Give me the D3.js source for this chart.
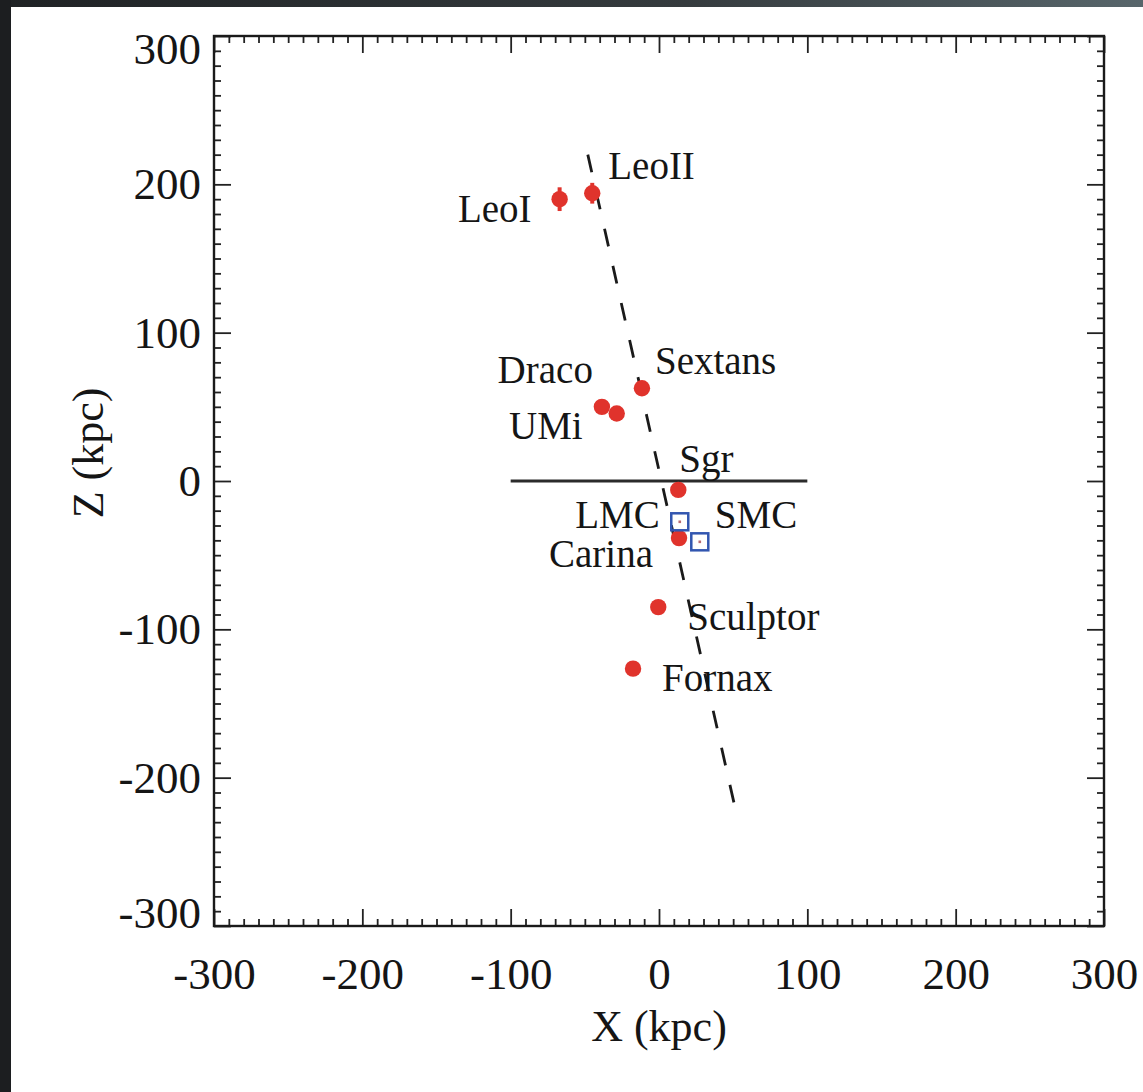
<!DOCTYPE html>
<html>
<head>
<meta charset="utf-8">
<script src="https://cdn.jsdelivr.net/npm/d3@7"></script>
<style>
  body { margin: 0; background: #fff; }
  svg { display: block; }
  text { font-family: "Liberation Serif", "Times New Roman", Times, serif; fill: #151515; }
</style>
</head>
<body>
<svg id="chart" width="1143" height="1092"></svg>
<script>
// Milky Way satellites projected on the X–Z plane (kpc)
const galaxies   = ["LeoI", "LeoII", "Draco", "UMi", "Sextans", "Sgr", "Carina", "Sculptor", "Fornax"];
const galaxyX    = [-67, -45, -38.5, -28.5, -11.5, 13, 13.5, -0.5, -17.5];
const galaxyZ    = [190, 194, 50, 45.5, 62.5, -6, -38.5, -85, -126.5];
const galaxyZErr = [8, 7, 0, 0, 0, 0, 0, 0, 0];

// Magellanic Clouds
const clouds = ["LMC", "SMC"];
const cloudX = [14, 27.5];
const cloudZ = [-27.5, -41];

// Galactic disc (solid) and the best-fit plane seen edge-on (dashed)
const discX = [-100, 100];
const discZ = [0, 0];
const fitX  = [-48, 51];
const fitZ  = [220, -219];

// Axis ticks
const majorTicks = [-300, -200, -100, 0, 100, 200, 300];
const tickLabels = ["-300", "-200", "-100", "0", "100", "200", "300"];

// Label placement around each marker (pixels)
const labelPlacement = {
  LeoI:     { anchor: "end",   dx: -28, dy: 23 },
  LeoII:    { anchor: "start", dx: 16,  dy: -14 },
  Draco:    { anchor: "end",   dx: -9,  dy: -24 },
  UMi:      { anchor: "end",   dx: -34, dy: 25 },
  Sextans:  { anchor: "start", dx: 13,  dy: -14 },
  Sgr:      { anchor: "start", dx: 1,   dy: -18 },
  Carina:   { anchor: "end",   dx: -26, dy: 29 },
  Sculptor: { anchor: "start", dx: 29,  dy: 23 },
  Fornax:   { anchor: "start", dx: 29,  dy: 22 },
  LMC:      { anchor: "end",   dx: -20, dy: 6 },
  SMC:      { anchor: "start", dx: 15,  dy: -14 }
};

const W = 1143, H = 1092;
const svg = d3.select("#chart");

// dark frame behind the white page
const defs = svg.append("defs");
const grad = defs.append("linearGradient").attr("id", "frameGrad")
  .attr("x1", "0").attr("y1", "0").attr("x2", "1").attr("y2", "0");
grad.append("stop").attr("offset", "0").attr("stop-color", "#1f2224");
grad.append("stop").attr("offset", "0.6").attr("stop-color", "#353b3e");
grad.append("stop").attr("offset", "1").attr("stop-color", "#58666b");
svg.append("rect").attr("width", W).attr("height", H).attr("fill", "url(#frameGrad)");
svg.append("rect").attr("x", 0).attr("y", 0).attr("width", 11).attr("height", H).attr("fill", "#1c1e20");
svg.append("rect").attr("x", 11).attr("y", 7).attr("width", W - 11).attr("height", H - 7).attr("fill", "#ffffff");

const plotLeft = 214, plotRight = 1104, plotTop = 36, plotBottom = 926;
const x = d3.scaleLinear().domain([-300, 300]).range([plotLeft, plotRight]);
const z = d3.scaleLinear().domain([-300, 300]).range([plotBottom, plotTop]);

const minorTicks = d3.range(-300, 301, 10).filter(v => !majorTicks.includes(v));
const fmt = v => tickLabels[majorTicks.indexOf(v)];
const tickFont = 45;

function styleAxis(g) {
  g.select(".domain").remove();
  g.selectAll(".tick line").attr("stroke", "#222").attr("stroke-width", 1.8);
  g.selectAll(".tick text").attr("font-size", tickFont).attr("fill", "#151515")
    .attr("font-family", "Liberation Serif, Times New Roman, serif");
}

// major ticks (inward) on all four sides
svg.append("g").attr("transform", `translate(0,${plotBottom})`)
  .call(d3.axisBottom(x).tickValues(majorTicks).tickFormat(fmt).tickSizeInner(-17).tickSizeOuter(0).tickPadding(31))
  .call(styleAxis);
svg.append("g").attr("transform", `translate(0,${plotTop})`)
  .call(d3.axisTop(x).tickValues(majorTicks).tickFormat("").tickSizeInner(-17).tickSizeOuter(0))
  .call(styleAxis);
const leftAxis = svg.append("g").attr("transform", `translate(${plotLeft},0)`)
  .call(d3.axisLeft(z).tickValues(majorTicks).tickFormat(fmt).tickSizeInner(-17).tickSizeOuter(0).tickPadding(13))
  .call(styleAxis);
svg.append("g").attr("transform", `translate(${plotRight},0)`)
  .call(d3.axisRight(z).tickValues(majorTicks).tickFormat("").tickSizeInner(-17).tickSizeOuter(0))
  .call(styleAxis);

// the end labels of the vertical axis sit inside the frame height
leftAxis.selectAll(".tick text")
  .attr("dy", d => d === 300 ? "0.62em" : d === -300 ? "0.04em" : "0.32em");

// minor ticks
svg.append("g").attr("transform", `translate(0,${plotBottom})`)
  .call(d3.axisBottom(x).tickValues(minorTicks).tickFormat("").tickSizeInner(-7).tickSizeOuter(0))
  .call(styleAxis);
svg.append("g").attr("transform", `translate(0,${plotTop})`)
  .call(d3.axisTop(x).tickValues(minorTicks).tickFormat("").tickSizeInner(-7).tickSizeOuter(0))
  .call(styleAxis);
svg.append("g").attr("transform", `translate(${plotLeft},0)`)
  .call(d3.axisLeft(z).tickValues(minorTicks).tickFormat("").tickSizeInner(-7).tickSizeOuter(0))
  .call(styleAxis);
svg.append("g").attr("transform", `translate(${plotRight},0)`)
  .call(d3.axisRight(z).tickValues(minorTicks).tickFormat("").tickSizeInner(-7).tickSizeOuter(0))
  .call(styleAxis);

// plot frame
svg.append("rect")
  .attr("x", x(-300)).attr("y", z(300))
  .attr("width", x(300) - x(-300)).attr("height", z(-300) - z(300))
  .attr("fill", "none").attr("stroke", "#1a1a1a").attr("stroke-width", 2.4);

// axis titles
svg.append("text").attr("x", x(0)).attr("y", 1041)
  .attr("text-anchor", "middle").attr("font-size", 44).text("X (kpc)");
svg.append("text").attr("transform", `translate(103,${453}) rotate(-90)`)
  .attr("text-anchor", "middle").attr("font-size", 44).text("Z (kpc)");

// Galactic disc
const line = d3.line().x(d => x(d[0])).y(d => z(d[1]));
svg.append("path").datum(d3.zip(discX, discZ)).attr("d", line)
  .attr("fill", "none").attr("stroke", "#2b2b2b").attr("stroke-width", 3);

// fitted plane
svg.append("path").datum(d3.zip(fitX, fitZ)).attr("d", line)
  .attr("fill", "none").attr("stroke", "#1a1a1a").attr("stroke-width", 2.8)
  .attr("stroke-dasharray", "18 20");

// dwarf spheroidals
const red = "#e0332c";
const gal = galaxies.map((name, i) => ({ name, x: galaxyX[i], z: galaxyZ[i], err: galaxyZErr[i] }));
svg.append("g").selectAll("line").data(gal.filter(d => d.err > 0)).join("line")
  .attr("x1", d => x(d.x)).attr("x2", d => x(d.x))
  .attr("y1", d => z(d.z - d.err)).attr("y2", d => z(d.z + d.err))
  .attr("stroke", red).attr("stroke-width", 4);
svg.append("g").selectAll("circle").data(gal).join("circle")
  .attr("cx", d => x(d.x)).attr("cy", d => z(d.z)).attr("r", 8.2)
  .attr("fill", red);

// Magellanic Clouds
const mc = clouds.map((name, i) => ({ name, x: cloudX[i], z: cloudZ[i] }));
const side = 17;
const mcG = svg.append("g").selectAll("g").data(mc).join("g")
  .attr("transform", d => `translate(${x(d.x)},${z(d.z)})`);
mcG.append("rect").attr("x", -side / 2).attr("y", -side / 2)
  .attr("width", side).attr("height", side)
  .attr("fill", "none").attr("stroke", "#3256b0").attr("stroke-width", 2.5);
mcG.append("rect").attr("x", -1.3).attr("y", -1.3).attr("width", 2.6).attr("height", 2.6)
  .attr("fill", "#b86a70");

// names
const labelled = gal.concat(mc);
svg.append("g").selectAll("text").data(labelled).join("text")
  .attr("x", d => x(d.x) + labelPlacement[d.name].dx)
  .attr("y", d => z(d.z) + labelPlacement[d.name].dy)
  .attr("text-anchor", d => labelPlacement[d.name].anchor)
  .attr("font-size", 39)
  .text(d => d.name);
</script>
</body>
</html>
